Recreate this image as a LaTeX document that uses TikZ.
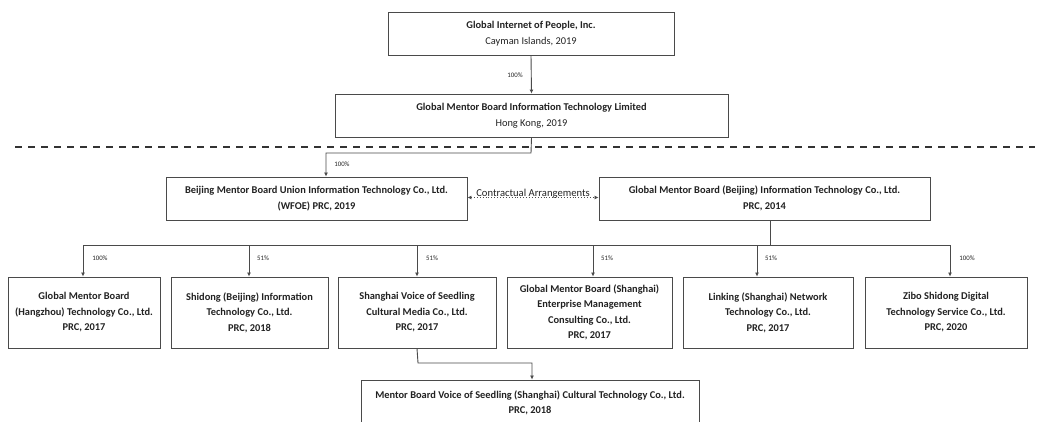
\documentclass[tikz,border=0pt]{standalone}
\usepackage{fontspec}
\setmainfont{Carlito}
\usetikzlibrary{arrows.meta}
\definecolor{ln}{HTML}{4A4A4A}
\definecolor{dk}{HTML}{333333}
\definecolor{tx}{HTML}{222222}
\tikzset{
  box/.style={draw=ln, line width=0.9pt, rectangle, align=center, inner sep=0pt, text=tx,
    font=\fontsize{10.4}{15.5}\selectfont},
  arr/.style={draw=ln, line width=0.9pt, -{Latex[length=4pt,width=4pt]}},
  plain/.style={draw=ln, line width=0.9pt},
  pct/.style={font=\fontsize{6.8}{8}\selectfont, text=tx, inner sep=0pt},
}
\begin{document}
\begin{tikzpicture}[x=1pt,y=-1pt]
\useasboundingbox (0,0) rectangle (1040,421);
\clip (0,0) rectangle (1040,421);
% boxes
\node[box, minimum width=286pt, minimum height=43pt] (top) at (531,33.5)
  {\textbf{Global Internet of People, Inc.}\\Cayman Islands, 2019};
\node[box, minimum width=393pt, minimum height=43pt] (hk) at (531.5,115.5)
  {\textbf{Global Mentor Board Information Technology Limited}\\Hong Kong, 2019};
\node[box, minimum width=301pt, minimum height=43pt] (wfoe) at (316.5,198.5)
  {\textbf{Beijing Mentor Board Union Information Technology Co., Ltd.}\\\textbf{(WFOE) PRC, 2019}};
\node[box, minimum width=331pt, minimum height=43pt] (bj) at (764.5,198.5)
  {\textbf{Global Mentor Board (Beijing) Information Technology Co., Ltd.}\\\textbf{PRC, 2014}};
\node[box, minimum width=152pt, minimum height=71pt] (b1) at (84,312.5)
  {\textbf{Global Mentor Board}\\\textbf{(Hangzhou) Technology Co., Ltd.}\\\textbf{PRC, 2017}};
\node[box, minimum width=157pt, minimum height=71pt] (b2) at (249.5,312.5)
  {\textbf{Shidong (Beijing) Information}\\\textbf{Technology Co., Ltd.}\\\textbf{PRC, 2018}};
\node[box, minimum width=158pt, minimum height=71pt] (b3) at (417,312.5)
  {\textbf{Shanghai Voice of Seedling}\\\textbf{Cultural Media Co., Ltd.}\\\textbf{PRC, 2017}};
\node[box, minimum width=165pt, minimum height=71pt] (b4) at (589.5,312.5)
  {\textbf{Global Mentor Board (Shanghai)}\\\textbf{Enterprise Management}\\\textbf{Consulting Co., Ltd.}\\\textbf{PRC, 2017}};
\node[box, minimum width=170pt, minimum height=71pt] (b5) at (768,312.5)
  {\textbf{Linking (Shanghai) Network}\\\textbf{Technology Co., Ltd.}\\\textbf{PRC, 2017}};
\node[box, minimum width=162pt, minimum height=71pt] (b6) at (946,312.5)
  {\textbf{Zibo Shidong Digital}\\\textbf{Technology Service Co., Ltd.}\\\textbf{PRC, 2020}};
\node[box, minimum width=338pt, minimum height=46pt] (mb) at (530,403)
  {\textbf{Mentor Board Voice of Seedling (Shanghai) Cultural Technology Co., Ltd.}\\\textbf{PRC, 2018}};
% dashed separator
\coordinate (dl) at (15,147);
\coordinate (dr) at (1035,147);
\draw[dk, line width=1.4pt, dash pattern=on 7pt off 6pt] (dl) -- (dr);
% top -> hk
\draw[arr] (top.south) -- (hk.north);
\node[pct] (p0) at (515,75) {100\%};
% hk -> wfoe
\coordinate (k1) at (531,153);
\coordinate (k2) at (326,153);
\draw[arr] (hk.south) -- (k1) -- (k2) -- (k2 |- wfoe.north);
\node[pct] (p1) at (342,164) {100\%};
% contractual
\draw[ln, line width=0.9pt, dotted, {Latex[length=4pt,width=4pt]}-{Latex[length=4pt,width=4pt]}]
  ([yshift=1pt]wfoe.east) -- ([yshift=1pt]bj.west);
\node[font=\fontsize{10.6}{12}\selectfont, text=tx, inner sep=0pt] (ca) at (533,194) {Contractual Arrangements};
% bj -> bus
\coordinate (bs) at (770,220);
\coordinate (bm) at (770,245);
\coordinate (t1) at (83,245);
\coordinate (t2) at (249,245);
\coordinate (t3) at (417,245);
\coordinate (t4) at (593,245);
\coordinate (t5) at (757,245);
\coordinate (t6) at (950,245);
\draw[plain] (bs) -- (bm);
\draw[plain] (t1) -- (t6);
\draw[arr] (t1) -- (t1 |- b1.north);
\draw[arr] (t2) -- (t2 |- b2.north);
\draw[arr] (t3) -- (t3 |- b3.north);
\draw[arr] (t4) -- (t4 |- b4.north);
\draw[arr] (t5) -- (t5 |- b5.north);
\draw[arr] (t6) -- (t6 |- b6.north);
\node[pct] (q1) at (100,258) {100\%};
\node[pct] (q2) at (263,258) {51\%};
\node[pct] (q3) at (432,258) {51\%};
\node[pct] (q4) at (607,258) {51\%};
\node[pct] (q5) at (771,258) {51\%};
\node[pct] (q6) at (967,258) {100\%};
% b3 -> mb
\coordinate (m1) at (418,363);
\coordinate (m2) at (532,363);
\draw[arr] (b3.south) -- (m1) -- (m2) -- (m2 |- mb.north);
\end{tikzpicture}
\end{document}
